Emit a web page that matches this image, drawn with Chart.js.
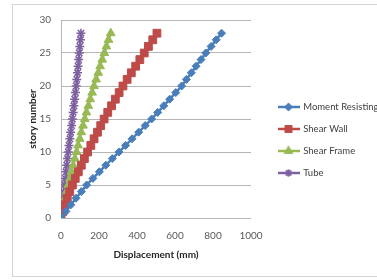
<!DOCTYPE html>
<html>
<head>
<meta charset="utf-8">
<script src="https://cdn.jsdelivr.net/npm/chart.js@4.4.1/dist/chart.umd.min.js"></script>
<style>
  html, body { margin: 0; padding: 0; background: #fff; overflow: hidden; }
  #wrap { position: relative; width: 377px; height: 280px; }
  #frame { position: absolute; left: 12px; top: 4px; width: 400px; height: 271px; border: 1px solid #d4d4d4; }
  canvas { position: absolute; left: 0; top: 0; }
</style>
</head>
<body>
<div id="wrap">
  <div id="frame"></div>
  <canvas id="chart" width="377" height="280"></canvas>
</div>
<script>
// story numbers (y) and top displacements (x, mm)
const stories = [0, 1, 2, 3, 4, 5, 6, 7, 8, 9, 10, 11, 12, 13, 14, 15, 16, 17, 18, 19, 20, 21, 22, 23, 24, 25, 26, 27, 28];
const momentResisting = [0, 26, 52, 79, 107, 135, 168, 202, 236, 270, 305, 340, 374, 409, 443, 477, 509, 541, 572, 604, 635, 660, 686, 711, 737, 762, 790, 817, 845];
const shearWall = [0, 10, 21, 33, 46, 60, 75, 91, 107, 123, 140, 157, 174, 192, 209, 227, 246, 266, 286, 306, 326, 348, 370, 393, 415, 438, 460, 483, 505];
const shearFrame = [0, 7, 15, 22, 30, 38, 47, 55, 64, 73, 82, 90, 99, 107, 116, 125, 134, 144, 154, 164, 174, 185, 196, 206, 217, 228, 239, 250, 262];
const tube = [0, 3, 7, 10, 14, 18, 22, 26, 30, 34, 38, 42, 47, 51, 56, 60, 64, 68, 72, 76, 80, 83, 87, 90, 93, 96, 99, 102, 105];

const seriesNames = ['Moment Resisting', 'Shear Wall', 'Shear Frame', 'Tube'];
const seriesColors = ['#4a7ebb', '#be4b48', '#98b954', '#7d60a0'];
const seriesMarkers = ['rectRot', 'rect', 'triangle', 'star'];
const markerSizes = [4, 5.5, 5, 4.5];

const xTicks = [0, 200, 400, 600, 800, 1000];
const yTicks = [0, 5, 10, 15, 20, 25, 30];

const FONT = 'Lato, "DejaVu Sans", sans-serif';

function toPoints(xs) {
    return xs.map((v, i) => ({ x: v, y: stories[i] }));
}

// small legend sample: line with the marker in the middle (Excel look)
function legendSample(color, marker, size) {
    const c = document.createElement('canvas');
    c.width = 22;
    c.height = 12;
    const g = c.getContext('2d');
    g.strokeStyle = color;
    g.lineWidth = 2.5;
    g.beginPath();
    g.moveTo(0, 6);
    g.lineTo(22, 6);
    g.stroke();
    g.fillStyle = color;
    g.lineWidth = 1.5;
    Chart.helpers.drawPoint(g, { pointStyle: marker, radius: size * 0.8, borderWidth: 1.5 }, 11, 6);
    if (marker !== 'star') g.fill();
    g.stroke();
    return c;
}

const allSeries = [momentResisting, shearWall, shearFrame, tube];

const datasets = allSeries.map((vals, i) => ({
    label: seriesNames[i],
    data: toPoints(vals),
    borderColor: seriesColors[i],
    backgroundColor: seriesColors[i],
    borderWidth: 2.5,
    pointStyle: seriesMarkers[i],
    pointRadius: markerSizes[i],
    pointBorderWidth: seriesMarkers[i] === 'star' ? 1.5 : 1,
    showLine: true,
    tension: 0
}));

const config = {
    type: 'scatter',
    data: { datasets: datasets },
    options: {
        responsive: false,
        animation: false,
        devicePixelRatio: 1,
        layout: { padding: 0 },
        plugins: {
            tooltip: { enabled: false },
            legend: {
                position: 'right',
                maxWidth: 111,
                labels: {
                    usePointStyle: true,
                    pointStyleWidth: 20,
                    padding: 12.5,
                    color: '#404040',
                    font: { family: FONT, size: 9.5 },
                    generateLabels: chart => chart.data.datasets.map((ds, i) => ({
                        text: ds.label,
                        pointStyle: legendSample(seriesColors[i], seriesMarkers[i], markerSizes[i]),
                        fillStyle: seriesColors[i],
                        strokeStyle: seriesColors[i],
                        fontColor: '#404040',
                        lineWidth: 0,
                        hidden: false,
                        datasetIndex: i
                    }))
                }
            }
        },
        scales: {
            x: {
                type: 'linear',
                min: 0,
                max: 1000,
                afterBuildTicks: s => { s.ticks = xTicks.map(v => ({ value: v })); },
                afterFit: s => { s.height = 62; },
                grid: { display: false, drawTicks: false },
                border: { display: false },
                ticks: {
                    color: '#595959',
                    padding: 12,
                    font: { family: FONT, size: 10 },
                    callback: v => String(v)
                },
                title: {
                    display: true,
                    text: 'Displacement (mm)',
                    color: '#262626',
                    font: { family: FONT, size: 10, weight: 'bold' },
                    padding: { top: 0, bottom: 19 }
                }
            },
            // empty band above the plot
            top: {
                type: 'linear',
                position: 'top',
                display: true,
                grid: { display: false, drawTicks: false },
                border: { display: false },
                ticks: { display: false },
                afterFit: s => { s.height = 20; }
            },
            y: {
                type: 'linear',
                min: 0,
                max: 30,
                afterBuildTicks: s => { s.ticks = yTicks.map(v => ({ value: v })); },
                afterFit: s => { s.width = 61; },
                grid: { color: '#b5b5b5', lineWidth: 1, drawTicks: false },
                border: { display: true, color: '#b5b5b5', width: 1 },
                ticks: { color: '#595959', padding: 10, font: { family: FONT, size: 10 } },
                title: {
                    display: true,
                    text: 'story number',
                    color: '#262626',
                    font: { family: FONT, size: 10, weight: 'bold' },
                    padding: { top: 27, bottom: 0 }
                }
            },
            // empty spacer between the plot and the legend
            gap: {
                type: 'linear',
                position: 'right',
                display: true,
                grid: { display: false, drawTicks: false },
                border: { display: false },
                ticks: { display: false },
                afterFit: s => { s.width = 15; }
            }
        }
    }
};

const ctx = document.getElementById('chart');
const myChart = new Chart(ctx, config);
window.myChart = myChart;
</script>
</body>
</html>
